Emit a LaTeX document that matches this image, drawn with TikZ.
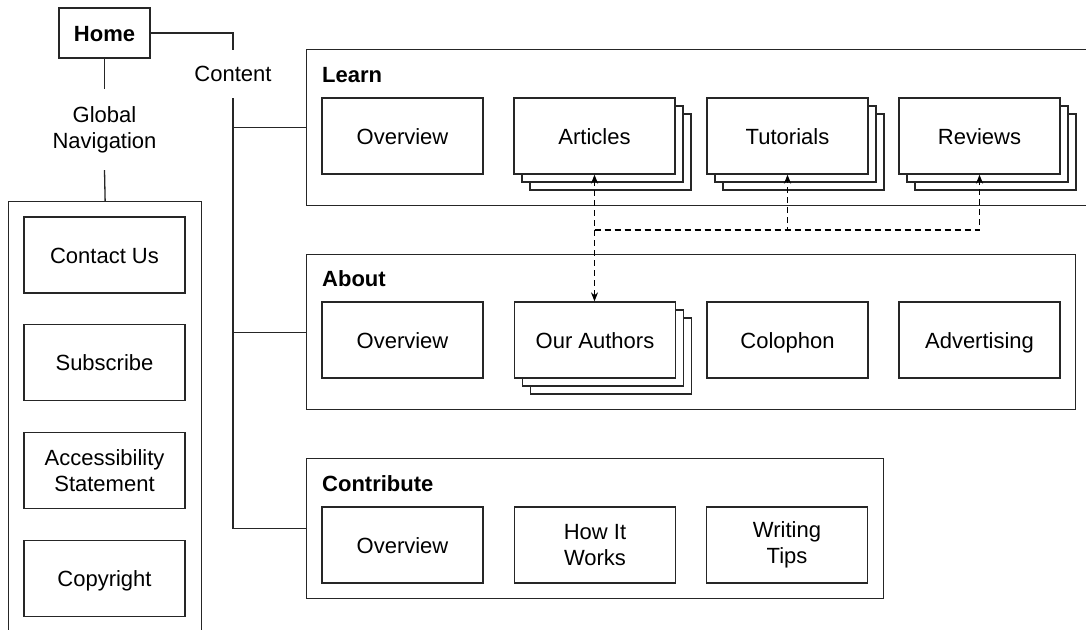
\documentclass[tikz,border=0pt]{standalone}
\usepackage{fontspec}
\setmainfont{Liberation Sans}
\usetikzlibrary{shadows,arrows.meta}
\begin{document}
\begin{tikzpicture}[x=1pt,y=-1pt,
  >={Stealth[length=9pt,width=7pt]},
  ln/.style={line width=1.3pt,draw=black!85},
  box/.style={ln,draw,fill=white,minimum width=161,minimum height=76,inner sep=0pt,align=center,
    font=\fontsize{22}{26}\selectfont,text height=16pt,text depth=0pt},
  multi/.style={text height={},text depth={}},
  stack/.style={box,
    copy shadow={shadow xshift=16pt,shadow yshift=-16pt,line width=1.3pt,draw=black!85},
    copy shadow={shadow xshift=8pt,shadow yshift=-8pt,line width=1.3pt,draw=black!85}},
  panel/.style={ln,draw,inner sep=0pt,anchor=north west},
  head/.style={font=\fontsize{22}{26}\selectfont\bfseries,inner sep=0pt,anchor=base west},
  lbl/.style={font=\fontsize{22}{26}\selectfont,inner sep=0pt,align=center},
  dashln/.style={line width=1.2pt,dash pattern=on 6pt off 4pt}
]
\useasboundingbox (0,0) rectangle (1086,629);
% Home and top labels
\node[box,minimum width=91,minimum height=50,font=\fontsize{22}{26}\selectfont\bfseries] (home) at (104.5,33) {Home};
\node[lbl,minimum height=48] (content) at (233,74) {Content};
\node[lbl,minimum height=81] (gnav) at (104.5,129.5) {Global\\Navigation};
% Global navigation panel
\node[panel,minimum width=193,minimum height=450] (nav) at (8,201) {};
\node[box] (contact) at (104.5,255) {Contact Us};
\node[box] (subscribe) at (104.5,362.5) {Subscribe};
\node[box,multi] (access) at (104.5,470.5) {Accessibility\\Statement};
\node[box] (copyright) at (104.5,578.5) {Copyright};
% Content panels
\node[panel,minimum width=794,minimum height=156] (learn) at (306,49) {};
\node[panel,minimum width=769,minimum height=155] (about) at (306,254) {};
\node[panel,minimum width=577,minimum height=140] (contrib) at (306,458) {};
\node[head] (learnlbl) at ([shift={(16,33)}]learn.north west) {Learn};
\node[head] (aboutlbl) at ([shift={(16,32)}]about.north west) {About};
\node[head] (contriblbl) at ([shift={(16,33)}]contrib.north west) {Contribute};
% Learn row
\node[box] (lover) at (402.5,136) {Overview};
\node[stack] (art) at (594.5,136) {Articles};
\node[stack] (tut) at (787.5,136) {Tutorials};
\node[stack] (rev) at (979.5,136) {Reviews};
% About row
\node[box] (aover) at (402.5,340) {Overview};
\node[stack] (auth) at (595,340) {Our Authors};
\node[box] (colo) at (787.5,340) {Colophon};
\node[box] (adv) at (979.5,340) {Advertising};
% Contribute row
\node[box] (cover) at (402.5,545) {Overview};
\node[box,multi] (how) at (595,545) {How It\\Works};
\node[box,multi] (tips) at (787,545) {Writing\\Tips};
% connectors
\draw[ln] (home.south) -- (gnav.north);
\draw[ln] (gnav.south) -- (nav.north);
\draw[ln] (home.east) -| (content.north);
\draw[ln] (content.south) |- (learn.west);
\draw[ln] (content.south) |- (about.west);
\draw[ln] (content.south) |- (contrib.west);
% dashed cross links
\coordinate (dj) at (594.5,230);
\draw[dashln,<->] (art.south) -- (art.south |- auth.north);
\draw[dashln,->] (dj) -| (tut.south);
\draw[dashln,->] (dj) -| (rev.south);
\end{tikzpicture}
\end{document}
